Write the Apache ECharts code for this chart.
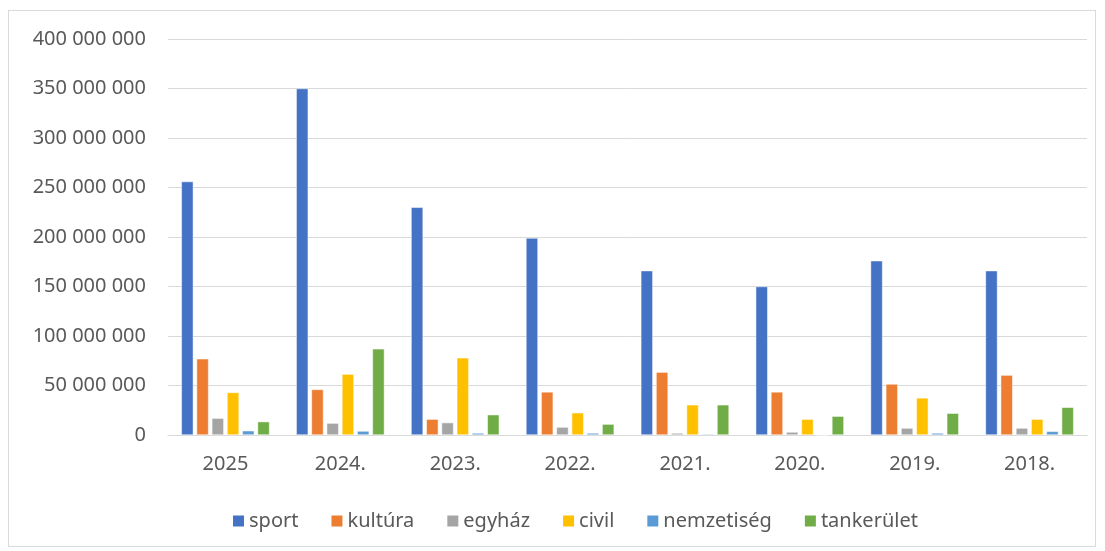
<!DOCTYPE html>
<html>
<head>
<meta charset="utf-8">
<script src="https://cdn.jsdelivr.net/npm/echarts@6/dist/echarts.min.js"></script>
<style>
  html, body { margin: 0; padding: 0; background: #fff; }
  #frame {
    position: absolute; left: 8px; top: 10px; width: 1088px; height: 537px;
    border: 1px solid #d9d9d9; box-sizing: border-box;
  }
  #chart { position: absolute; left: 0; top: 0; width: 1105px; height: 551px; }
</style>
</head>
<body>
<div id="frame"></div>
<div id="chart"></div>
<script>
// years as labelled on the axis
const years = ['2025', '2024.', '2023.', '2022.', '2021.', '2020.', '2019.', '2018.'];

// amounts in HUF
const sport      = [256e6, 350e6, 230e6, 199e6, 166e6, 150e6, 176e6, 166e6];
const kultura    = [77e6, 46e6, 16e6, 43.5e6, 63.5e6, 43.5e6, 51.5e6, 60.5e6];
const egyhaz     = [17e6, 12e6, 12.5e6, 8e6, 2e6, 3e6, 7e6, 7e6];
const civil      = [43e6, 61.5e6, 78e6, 22.5e6, 30.5e6, 16e6, 37.5e6, 16e6];
const nemzetiseg = [4.3e6, 4e6, 2e6, 2e6, 1e6, 0, 2e6, 3.7e6];
const tankerulet = [13.5e6, 87e6, 20.5e6, 11e6, 30.5e6, 19e6, 22e6, 28e6];

const seriesNames = ['sport', 'kultúra', 'egyház', 'civil', 'nemzetiség', 'tankerület'];
const seriesData = [sport, kultura, egyhaz, civil, nemzetiseg, tankerulet];
const colors = ['#4472c4', '#ed7d31', '#a5a5a5', '#ffc000', '#5b9bd5', '#70ad47'];

const FONT = "'Noto Sans', sans-serif";
const fmtNum = v => String(Math.round(v)).replace(/\B(?=(\d{3})+(?!\d))/g, ' ');

const chart = echarts.init(document.getElementById('chart'));
chart.setOption({
  animation: false,
  color: colors,
  textStyle: { fontFamily: FONT },
  grid: { left: 168, right: 18, top: 39, bottom: 116 },
  legend: {
    top: 506,
    left: 226,
    itemWidth: 13,
    itemHeight: 13,
    itemGap: 31,
    icon: 'rect',
    textStyle: { fontSize: 20, color: '#595959', fontFamily: FONT, padding: [0, 0, 0, -1] },
    data: seriesNames,
  },
  xAxis: {
    type: 'category',
    data: years,
    axisLine: { lineStyle: { color: '#d9d9d9', width: 1 } },
    axisTick: { show: false },
    axisLabel: { fontSize: 20, color: '#595959', margin: 19 },
  },
  yAxis: {
    type: 'value',
    min: 0,
    max: 400e6,
    interval: 50e6,
    axisLine: { show: false },
    axisTick: { show: false },
    splitLine: { lineStyle: { color: '#d9d9d9', width: 1 } },
    axisLabel: { fontSize: 20, color: '#595959', margin: 22, formatter: fmtNum },
  },
  series: seriesNames.map((name, i) => ({
    name,
    type: 'bar',
    data: seriesData[i],
    barWidth: 12,
    barGap: '27%',
    itemStyle: { borderColor: '#fff', borderWidth: 0.5 },
  })),
});
</script>
</body>
</html>
